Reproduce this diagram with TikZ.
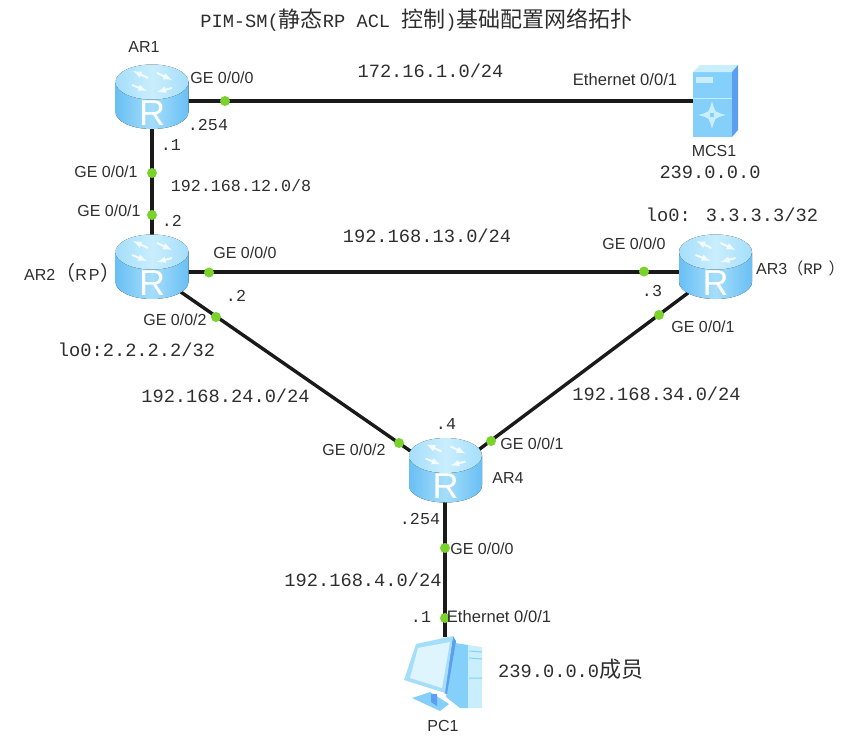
\documentclass[tikz,border=0pt]{standalone}
\usepackage{fontspec}
\setmainfont{Liberation Sans}
\newfontfamily\monofnt{Liberation Mono}
\newfontfamily\cjk{Noto Sans CJK SC}
\newcommand{\cjkbig}{\fontsize{22}{24}\selectfont\cjk}
\usetikzlibrary{positioning}
\usetikzlibrary{arrows}
\definecolor{cableblack}{HTML}{1A1A1A}
\definecolor{portgreen}{HTML}{7AD32C}
\definecolor{icondeep}{HTML}{69BFF4}
\definecolor{iconmid}{HTML}{A5DEFB}
\definecolor{iconpale}{HTML}{C9EEFD}
\definecolor{iconfront}{HTML}{84D0FB}
\definecolor{icondark}{HTML}{5C9FF0}
\definecolor{textgrey}{HTML}{2E2E2E}
\tikzset{
  cable/.style={line width=3.4pt,draw=cableblack},
  portdot/.style={circle,fill=portgreen,minimum size=10pt,inner sep=0pt},
  hub/.style={circle,minimum size=40pt,inner sep=0pt},
  portlabel/.style={font=\fontsize{16}{18}\selectfont,text=textgrey,inner sep=0pt},
  ethlabel/.style={font=\fontsize{16.6}{18}\selectfont,text=textgrey,inner sep=0pt},
  netlabel/.style={font=\fontsize{18.7}{22}\selectfont\monofnt,text=textgrey,inner sep=0pt},
  hostlabel/.style={font=\fontsize{16.7}{20}\selectfont\monofnt,text=textgrey,inner sep=0pt},
  routericon/.pic={
    \fill[left color=icondeep,right color=icondeep,middle color=iconmid]
      (-36.5,-15) -- (-36.5,15) arc[start angle=180,end angle=360,x radius=36.5pt,y radius=17pt] -- (36.5,-15) -- cycle;
    \fill[left color=iconmid,right color=iconmid,middle color=iconpale] (0,-15) ellipse[x radius=36.5pt,y radius=17.5pt];
    \draw[white,opacity=.8,line width=2pt,-latex] (-4,-19) -- (-19,-26);
    \draw[white,opacity=.8,line width=2pt,-latex] (5,-24) -- (20,-17);
    \draw[white,opacity=.8,line width=2pt,-latex] (-20,-12) -- (-5,-6);
    \draw[white,opacity=.8,line width=2pt,-latex] (20,-9) -- (5,-5);
    \node[font=\fontsize{36}{36}\selectfont,text=white,inner sep=0pt] (-r) at (0,16) {R};
  }
}
\begin{document}
\begin{tikzpicture}[x=1pt,y=-1pt]
\useasboundingbox (0,0) rectangle (847,737);
\node[hub] (ar1) at (152,101) {};
\node[hub] (ar2) at (152,272) {};
\node[hub] (ar3) at (716,272) {};
\node[hub] (ar4) at (445,475) {};
\node[minimum width=45pt,minimum height=72pt,inner sep=0pt] (mcs1) at (715.5,101) {};
\node[minimum width=74pt,minimum height=76pt,inner sep=0pt] (pc1) at (445,675) {};
\draw[cable] (ar1) -- (mcs1);
\draw[cable] (ar1) -- (ar2);
\draw[cable] (ar2) -- (ar3);
\draw[cable] (ar2) -- (ar4);
\draw[cable] (ar3) -- (ar4);
\draw[cable] (ar4) -- (pc1);
\foreach \n/\x/\y in {a/225/101,b/152/173,c/152/215,d/209/272.5,e/644/271.5,f/216/317,g/659/315,h/399/443,i/491/441,j/445/548,k/445/618} {
  \node[portdot] (dot\n) at (\x,\y) {};
}
\pic (ar1i) at (152,97) {routericon};
\pic (ar2i) at (152,267) {routericon};
\pic (ar3i) at (715.5,267) {routericon};
\pic (ar4i) at (445.5,470.5) {routericon};
% MCS1
\fill[iconfront] (693,72) -- (732,72) -- (732,137) -- (693,137) -- cycle;
\fill[iconpale] (693,72) -- (700,65) -- (738,65) -- (732,72) -- cycle;
\fill[icondark] (732,72) -- (738,65) -- (738,130) -- (732,137) -- cycle;
\fill[iconpale] (696,77) -- (713,77) -- (713,83) -- (696,83) -- cycle;
\draw[iconpale,line width=1pt] (693,98) -- (732,98);
\foreach \dx/\dy in {0/-14,0/14,-14/0,14/0} {
  \draw[iconpale,line width=3pt,-latex] (712+0.3*\dx,115+0.3*\dy) -- (712+\dx,115+\dy);
}
% PC1
\fill[iconfront] (412,698) -- (430,692) -- (449,704) -- (440,711) -- cycle;
\fill[icondark] (431,694) -- (437,694) -- (437,706) -- (431,702) -- cycle;
\fill[iconfront] (455,643) -- (468,645) -- (468,708) -- (460,708) -- (446,697) -- cycle;
\fill[iconpale] (468,645) -- (482,647) -- (482,708) -- (468,708) -- cycle;
\draw[iconfront,line width=1pt] (469,651) -- (482,652) (469,658) -- (482,659) (469,678) -- (482,678);
\fill[icondark] (453,636) -- (456,641) -- (447,694) -- (444,693) -- cycle;
\fill[iconmid] (416,644) -- (453,636) -- (445,693) -- (404,680) -- cycle;
\fill[iconpale!60!white] (418,648) -- (450,642) -- (442,688) -- (410,678) -- cycle;
% labels
\node[netlabel] (title) at (416.5,20) {PIM-SM({\cjkbig 静态}RP ACL {\cjkbig 控制}){\cjkbig 基础配置网络拓扑}};
\node[portlabel] (nameara) at (144,47) {AR1};
\node[portlabel,anchor=west] (namearb) at (24,273) {AR2{\cjk\fontsize{20}{22}\selectfont （}R\kern2pt P\kern1pt{\cjk\fontsize{20}{22}\selectfont ）}};
\node[portlabel,anchor=west] (namearc) at (756,268) {AR3{\cjk\fontsize{16}{18}\selectfont （}{\monofnt\fontsize{16}{18}\selectfont RP}\kern6pt{\cjk\fontsize{16}{18}\selectfont ）}};
\node[portlabel] (nameard) at (508,478) {AR4};
\node[portlabel] (namemcs) at (714,151) {MCS1};
\node[portlabel] (namepc) at (443,726) {PC1};
\node[portlabel] (porta) at (222,78) {GE 0/0/0};
\node[ethlabel] (portb) at (625,80) {Ethernet 0/0/1};
\node[portlabel] (portc) at (106,172) {GE 0/0/1};
\node[portlabel] (portd) at (109,211) {GE 0/0/1};
\node[portlabel] (porte) at (245,253) {GE 0/0/0};
\node[portlabel] (portf) at (634,244) {GE 0/0/0};
\node[portlabel] (portg) at (703,327) {GE 0/0/1};
\node[portlabel] (porth) at (175,320) {GE 0/0/2};
\node[portlabel] (porti) at (354,450) {GE 0/0/2};
\node[portlabel] (portj) at (532,444) {GE 0/0/1};
\node[portlabel] (portk) at (482,549) {GE 0/0/0};
\node[ethlabel] (portl) at (499,617) {Ethernet 0/0/1};
\node[netlabel] (neta) at (430.5,71) {172.16.1.0/24};
\node[hostlabel] (netb) at (241,186) {192.168.12.0/8};
\node[netlabel] (netc) at (427,236) {192.168.13.0/24};
\node[netlabel] (netd) at (225.5,396) {192.168.24.0/24};
\node[netlabel] (nete) at (656.5,394) {192.168.34.0/24};
\node[netlabel] (netf) at (363,580) {192.168.4.0/24};
\node[netlabel] (loa) at (136.5,350) {lo0:2.2.2.2/32};
\node[netlabel] (lob) at (732,215) {lo0: 3.3.3.3/32};
\node[netlabel] (groupa) at (710,172) {239.0.0.0};
\node[netlabel,anchor=west] (groupb) at (498,669) {239.0.0.0{\cjkbig 成员}};
\node[hostlabel] (hosta) at (208,125) {.254};
\node[hostlabel] (hostb) at (171,145) {.1};
\node[hostlabel] (hostc) at (172,221) {.2};
\node[hostlabel] (hostd) at (236,296) {.2};
\node[hostlabel] (hoste) at (652,291) {.3};
\node[hostlabel] (hostf) at (446,424) {.4};
\node[hostlabel] (hostg) at (420,519) {.254};
\node[hostlabel] (hosth) at (421,617) {.1};
\end{tikzpicture}
\end{document}
